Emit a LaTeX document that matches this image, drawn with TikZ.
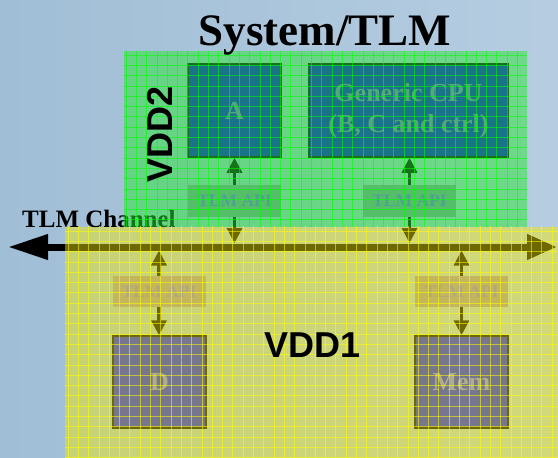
\documentclass[tikz,border=0pt]{standalone}
\usepackage{fontspec}
\setmainfont{Liberation Serif}
\setsansfont{Liberation Sans}
\usetikzlibrary{arrows.meta}
\definecolor{bgleft}{RGB}{160,190,214}
\definecolor{bgright}{RGB}{182,205,225}
\definecolor{ovgreen}{RGB}{40,230,50}
\definecolor{ovyellow}{RGB}{245,232,0}
\definecolor{gridgreen}{RGB}{0,255,0}
\definecolor{gridyellow}{RGB}{255,255,0}
\definecolor{procfill}{RGB}{10,0,225}
\definecolor{proctext}{RGB}{120,110,190}
\definecolor{memfill}{RGB}{15,25,255}
\definecolor{memtext}{RGB}{120,128,250}
\definecolor{apigfill}{RGB}{130,150,160}
\definecolor{apigtext}{RGB}{120,95,240}
\definecolor{apiyfill}{RGB}{155,142,167}
\definecolor{apiytext}{RGB}{120,115,235}
\begin{document}
\begin{tikzpicture}[x=1pt,y=-1pt,
  procbox/.style={draw=black, line width=1.5pt, fill=procfill, text=proctext,
    font=\bfseries\fontsize{26}{31}\selectfont, align=center, inner sep=0pt},
  membox/.style={draw=black, line width=1.5pt, fill=memfill, text=memtext,
    font=\bfseries\fontsize{26}{31}\selectfont, inner sep=0pt,
    minimum width=93pt, minimum height=92pt},
  apigreen/.style={fill=apigfill, text=apigtext, inner sep=0pt,
    font=\bfseries\fontsize{17.5}{20}\selectfont, minimum width=93pt, minimum height=32pt},
  apiyellow/.style={fill=apiyfill, text=apiytext, inner sep=0pt,
    font=\bfseries\fontsize{17.5}{20}\selectfont, minimum width=93pt, minimum height=31pt},
  varrow/.style={line width=3.2pt, -{Triangle[length=15pt,width=15pt]}},
  busarrow/.style={line width=7pt, {Triangle[length=40pt,width=24pt]}-{Triangle[length=30pt,width=24pt]}},
  vddlabel/.style={font=\sffamily\bfseries\fontsize{36}{40}\selectfont, inner sep=0pt},
  gridline/.style={line width=0.8pt, opacity=0.55}
]
\clip (0,0) rectangle (558,458);
% background
\shade[left color=bgleft, right color=bgright] (0,0) rectangle (558,458);

% channel label and bus
\node[anchor=base west, inner sep=0pt, font=\bfseries\fontsize{25}{28}\selectfont] (chan) at (22,227) {TLM Channel};
\coordinate (busL) at (8,247);
\coordinate (busR) at (557,247);
\draw[busarrow] (busL) -- (busR);

% blocks
\node[procbox, minimum width=93pt, minimum height=93pt] (A) at (234.5,110.5) {A};
\node[procbox, minimum width=199pt, minimum height=93pt] (CPU) at (408.5,110.5) {Generic CPU\\(B, C and ctrl)};
\node[apigreen] (apiA) at (234.5,201) {TLM API};
\node[apigreen] (apiC) at (409.5,201) {TLM API};
\node[apiyellow] (apiD) at (159,291.5) {TLM API};
\node[apiyellow] (apiM) at (461.5,291.5) {TLM API};
\node[membox] (D) at (159.5,382) {D};
\node[membox] (Mem) at (461.5,382) {Mem};

\coordinate (busA) at (234.5,243);
\coordinate (busC) at (409.5,243);
\coordinate (busD) at (159,250.5);
\coordinate (busM) at (461.5,250.5);

\draw[varrow] (apiA.north) -- (A.south);
\draw[varrow] (apiA.south) -- (busA);
\draw[varrow] (apiC.north) -- (apiC.north |- CPU.south);
\draw[varrow] (apiC.south) -- (busC);
\draw[varrow] (apiD.north) -- (busD);
\draw[varrow] (apiD.south) -- (apiD.south |- D.north);
\draw[varrow] (apiM.north) -- (busM);
\draw[varrow] (apiM.south) -- (Mem.north);

% translucent voltage domains
\fill[ovgreen, opacity=0.5] (124,51) rectangle (527,226.5);
\fill[ovyellow, opacity=0.45] (65,226.5) rectangle (558,458);

% grid texture
\begin{scope}
  \clip (124,51) rectangle (527,226.5);
  \foreach \i in {0,...,40} {
    \draw[gridline, gridgreen] (126+10.3*\i,51) -- (126+10.3*\i,227);
  }
  \foreach \i in {0,...,17} {
    \draw[gridline, gridgreen] (124,55+10.3*\i) -- (527,55+10.3*\i);
  }
\end{scope}
\begin{scope}
  \clip (65,226.5) rectangle (558,458);
  \foreach \i in {0,...,48} {
    \draw[gridline, gridyellow] (68+10.3*\i,226) -- (68+10.3*\i,458);
  }
  \foreach \i in {0,...,23} {
    \draw[gridline, gridyellow] (65,231+10.3*\i) -- (558,231+10.3*\i);
  }
\end{scope}

% labels on top
\node[vddlabel, anchor=base] (vdd1) at (313,357) {VDD1};
\node[vddlabel, anchor=base, rotate=90] (vdd2) at (172,134) {VDD2};
\node[anchor=base, inner sep=0pt, font=\bfseries\fontsize{45}{50}\selectfont] (title) at (325,45) {System/TLM};
\end{tikzpicture}
\end{document}
